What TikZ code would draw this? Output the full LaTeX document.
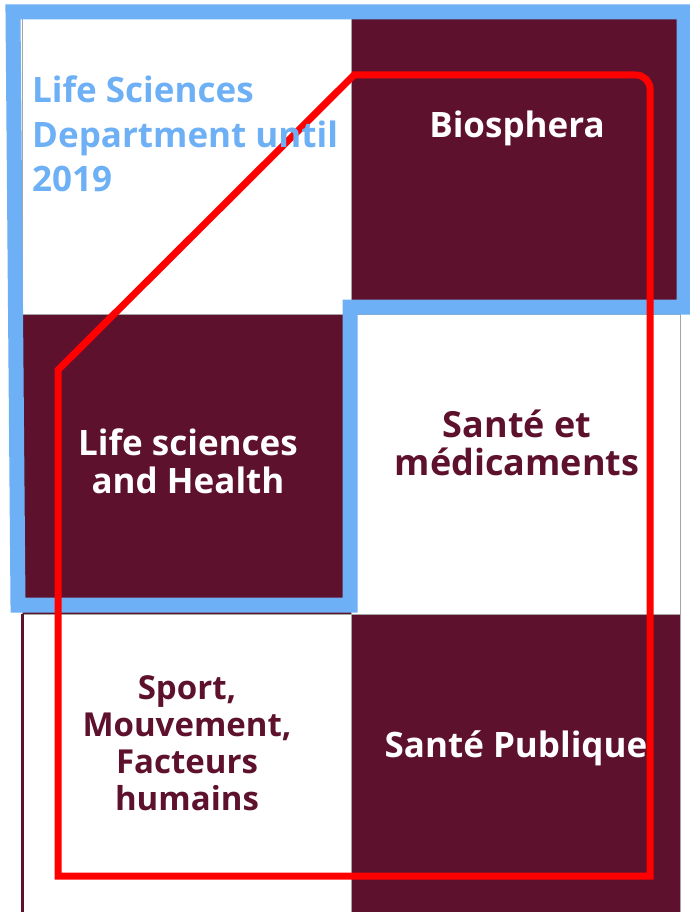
\documentclass[tikz,border=0pt]{standalone}
\usepackage{fontspec}
\setmainfont{Open Sans}
\usepackage{tikz}
\usetikzlibrary{positioning}
\definecolor{wine}{RGB}{94,17,45}
\definecolor{skyline}{RGB}{110,176,245}
\definecolor{gridgray}{RGB}{165,165,165}

\begin{document}
\begin{tikzpicture}[x=1pt,y=-1pt,
    cell/.style={rectangle,draw=gridgray,line width=1pt,minimum width=329pt,minimum height=300pt,inner sep=0pt,outer sep=0pt},
    dark/.style={cell,fill=wine},
    light/.style={cell,fill=white},
    lbl/.style={font=\fontsize{35}{38}\selectfont\bfseries,align=center,anchor=base,inner sep=0pt},
    frame/.style={line width=15pt,skyline},
    group/.style={line width=7pt,red}]
      \useasboundingbox (0,0) rectangle (690,912);
      \fill[white] (0,0) rectangle (690,912);
      \node[light] (lsd) at (186.5,164) {};
      \node[dark,right=0pt of lsd] (bio) {};
      \node[dark,below=0pt of lsd] (lsh) {};
      \node[light,right=0pt of lsh] (smd) {};
      \node[light,below=0pt of lsh] (smf) {};
      \node[dark,right=0pt of smf] (sp) {};
      \draw[wine,line width=3pt] (smf.north west) -- (smf.south west);
      \node[lbl,text=white] (biot) at (517,138) {Biosphera};
      \node[lbl,text=white] (lsht) at (188,493) {Life sciences\\and Health};
      \node[lbl,text=wine,font=\fontsize{36}{38}\selectfont\bfseries] (smdt) at (517,475) {Santé et\\médicaments};
      \node[lbl,text=wine,font=\fontsize{33}{37}\selectfont\bfseries] (smft) at (187,810) {Sport,\\Mouvement,\\Facteurs\\humains};
      \node[lbl,text=white] (spt) at (516,757) {Santé Publique};
      \draw[frame] (13,12) -- (684,12) -- (684,307) -- (350,307) -- (350,605) -- (18,605) -- cycle;
      \draw[group] (58,876) -- (58,370) -- (354,75) [rounded corners=14pt] -- (650,75) [sharp corners] -- (650,876) -- cycle;
      \node[font=\fontsize{35}{44.5}\selectfont\bfseries,text=skyline,align=left,anchor=base west,inner sep=0pt] (dept) at (32,192) {Life Sciences\\Department until\\2019};
    \end{tikzpicture}
\end{document}
